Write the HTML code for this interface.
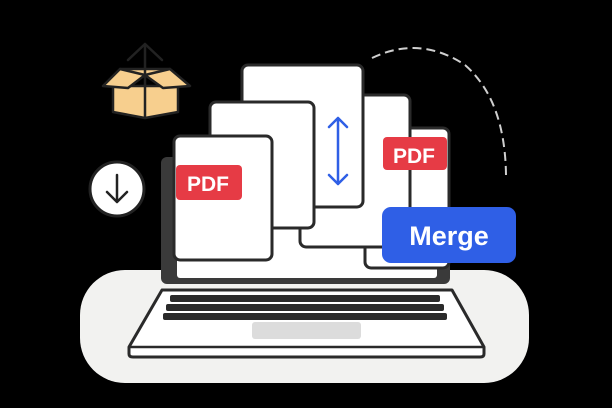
<!DOCTYPE html>
<html><head><style>html,body{margin:0;padding:0;background:#000;}svg{display:block}</style></head>
<body>
<svg width="612" height="408" viewBox="0 0 612 408" xmlns="http://www.w3.org/2000/svg" font-family="Liberation Sans, sans-serif">
<rect width="612" height="408" fill="#000"/>
<rect x="80" y="270" width="449" height="113" rx="45" fill="#f2f2f0"/>
<path d="M372 58 Q420 35 465 65 Q505 100 506 175" fill="none" stroke="#cfcfcf" stroke-width="2" stroke-dasharray="9 5"/>
<g stroke="#222" stroke-width="2.5" stroke-linejoin="round" stroke-linecap="round">
<path d="M113 86 L113 112 L145 118 L178 112 L178 86 Z" fill="#f7cf8e"/>
<path d="M103 86 L120 69 L170 69 L190 86 L163 88 L145 75 L128 88 Z" fill="#f7cf8e"/>
<path d="M120 69 L145 75 L170 69" fill="none"/>
<line x1="145" y1="75" x2="145" y2="118"/>
<line x1="145" y1="45" x2="145" y2="75"/>
<path d="M128 60 L145 44 L162 60" fill="none"/>
</g>
<circle cx="117" cy="189" r="27" fill="#fff" stroke="#222" stroke-width="3"/>
<path d="M117 175 L117 201 M107 192 L117 202 L127 192" fill="none" stroke="#222" stroke-width="2.5" stroke-linecap="round" stroke-linejoin="round"/>
<path d="M162 290 L452 290 L484 347 L484 354 Q484 357 480 357 L133 357 Q129 357 129 354 L129 347 Z" fill="#fff" stroke="#2a2a2a" stroke-width="3" stroke-linejoin="round"/>
<line x1="130" y1="347" x2="483" y2="347" stroke="#2a2a2a" stroke-width="2.5"/>
<g fill="#2a2a2a">
<rect x="170" y="295" width="270" height="7" rx="2"/>
<rect x="166" y="304" width="278" height="7" rx="2"/>
<rect x="163" y="313" width="284" height="7" rx="2"/>
</g>
<rect x="252" y="322" width="109" height="17" rx="3" fill="#dcdcdc"/>
<rect x="161" y="157" width="289" height="127" rx="6" fill="#3a3a3a"/>
<rect x="177" y="163" width="260" height="115" rx="3" fill="#fff"/>
<rect x="365" y="128" width="84" height="140" rx="6" fill="#fff" stroke="#2a2a2a" stroke-width="3"/>
<rect x="300" y="95" width="110" height="152" rx="6" fill="#fff" stroke="#2a2a2a" stroke-width="3"/>
<rect x="383" y="137" width="64" height="33" rx="4" fill="#e63b45"/>
<text x="414" y="163" font-size="21" font-weight="bold" fill="#fff" text-anchor="middle">PDF</text>
<rect x="242" y="65" width="121" height="142" rx="6" fill="#fff" stroke="#2a2a2a" stroke-width="3"/>
<path d="M338 118 L338 184 M329 127 L338 118 L347 127 M329 175 L338 184 L347 175" fill="none" stroke="#2f5fe6" stroke-width="2.5" stroke-linecap="round" stroke-linejoin="round"/>
<rect x="210" y="102" width="104" height="126" rx="6" fill="#fff" stroke="#2a2a2a" stroke-width="3"/>
<rect x="174" y="136" width="98" height="124" rx="6" fill="#fff" stroke="#2a2a2a" stroke-width="3"/>
<rect x="176" y="165" width="66" height="35" rx="4" fill="#e63b45"/>
<text x="208" y="191" font-size="21" font-weight="bold" fill="#fff" text-anchor="middle">PDF</text>
<rect x="382" y="207" width="134" height="56" rx="9" fill="#2f5fe6"/>
<text x="449" y="245" font-size="27" font-weight="bold" fill="#fff" text-anchor="middle">Merge</text>
</svg>
</body></html>
